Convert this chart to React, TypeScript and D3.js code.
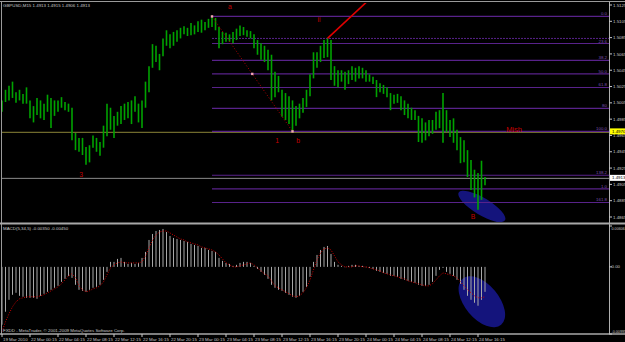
import React from "react";
import * as d3 from "d3";

// ---- price bars (M15 GBPUSD, high / low) ----
const highs = [
  1.5008, 1.5021, 1.5026, 1.5031, 1.5018, 1.5021, 1.5016, 1.5024, 1.5008, 1.5001,
  1.5011, 1.5008, 1.5004, 1.5015, 1.5011, 1.5008, 1.5008, 1.5012, 1.5006, 1.5004,
  1.4999, 1.4968, 1.4962, 1.4962, 1.4951, 1.4953, 1.4965, 1.4962, 1.4957, 1.4977,
  1.5004, 1.4999, 1.4989, 1.4994, 1.5001, 1.5004, 1.5006, 1.5008, 1.5013, 1.5004,
  1.5008, 1.5031, 1.505, 1.5077, 1.5075, 1.5065, 1.5084, 1.5094, 1.5089, 1.5092,
  1.5094, 1.5097, 1.5099, 1.5097, 1.5103, 1.51, 1.5105, 1.5107, 1.5104, 1.5108,
  1.5111, 1.5109, 1.5098, 1.5092, 1.5091, 1.5089, 1.5092, 1.5096, 1.51, 1.5098,
  1.5094, 1.5093, 1.5089, 1.5082, 1.5078, 1.5075, 1.507, 1.5064, 1.5043, 1.5038,
  1.5021, 1.5017, 1.5013, 1.5008, 1.5001, 1.5004, 1.5011, 1.5021, 1.504, 1.5067,
  1.5067, 1.5075, 1.5082, 1.5084, 1.5082, 1.505, 1.5045, 1.5045, 1.5043, 1.5045,
  1.505, 1.5048, 1.505, 1.5048, 1.5045, 1.504, 1.5037, 1.5033, 1.5029, 1.5027,
  1.5024, 1.5017, 1.5015, 1.5016, 1.5013, 1.5008, 1.5004, 1.4999, 1.4996, 1.4989,
  1.4986, 1.4981, 1.4984, 1.4984, 1.4994, 1.4996, 1.5017, 1.4996, 1.4984, 1.4986,
  1.4972, 1.4963, 1.4959, 1.4947, 1.4935, 1.4923, 1.4919, 1.4934, 1.4914,
];
const lows = [
  1.4994, 1.5006, 1.5008, 1.5011, 1.5005, 1.5008, 1.5004, 1.5004, 1.4986, 1.4981,
  1.499, 1.4986, 1.4984, 1.4994, 1.4974, 1.4989, 1.4994, 1.4999, 1.4996, 1.4994,
  1.4959, 1.4947, 1.4945, 1.4941, 1.4929, 1.4932, 1.495, 1.4945, 1.494, 1.495,
  1.4964, 1.4972, 1.4962, 1.4977, 1.4979, 1.4984, 1.4986, 1.4979, 1.4994, 1.4981,
  1.4974, 1.4999, 1.5018, 1.5048, 1.5055, 1.5045, 1.5062, 1.5075, 1.5072, 1.5075,
  1.508, 1.5084, 1.5089, 1.5087, 1.5088, 1.5089, 1.5092, 1.5091, 1.5094, 1.5097,
  1.5098, 1.5094, 1.5072, 1.5077, 1.508, 1.508, 1.5078, 1.5082, 1.5087, 1.5088,
  1.5086, 1.5084, 1.5072, 1.5064, 1.5058, 1.5055, 1.5045, 1.5008, 1.5012, 1.5018,
  1.4988, 1.4984, 1.4979, 1.497, 1.4977, 1.4986, 1.4993, 1.5, 1.5013, 1.5035,
  1.5048, 1.5055, 1.506, 1.5061, 1.5033, 1.5026, 1.5024, 1.5031, 1.5021, 1.5028,
  1.5033, 1.5031, 1.5035, 1.5035, 1.5031, 1.5031, 1.5028, 1.5012, 1.5018, 1.5016,
  1.5012, 1.4996, 1.5004, 1.5005, 1.4996, 1.499, 1.4986, 1.4984, 1.4984, 1.4957,
  1.4956, 1.4959, 1.4964, 1.4967, 1.4972, 1.4974, 1.4956, 1.4969, 1.4963, 1.4956,
  1.4947, 1.4931, 1.4932, 1.4914, 1.4898, 1.4889, 1.4874, 1.4886, 1.4904,
];

// ---- MACD(5,34,5) ----
const macdHist = [
  -0.00857, -0.00665, -0.00488, -0.00414, -0.00384, -0.00429, -0.00443, -0.00458, -0.00458, -0.00458,
  -0.00473, -0.00429, -0.00399, -0.0037, -0.0034, -0.0031, -0.00281, -0.00222, -0.00177, -0.00133,
  -0.00163, -0.00266, -0.0034, -0.00355, -0.0037, -0.0034, -0.0031, -0.00296, -0.00266, -0.00192,
  -0.00074, 0.00074, 0.00074, 0.00118, 0.00133, 0.00074, 0.00044, 0.00059, 0.00044, 0.00059,
  0.00133, 0.00222, 0.00399, 0.00488, 0.00532, 0.00547, 0.00562, 0.00517, 0.00458, 0.00429,
  0.00414, 0.00399, 0.00384, 0.0037, 0.0034, 0.00325, 0.0031, 0.00281, 0.00281, 0.00251,
  0.00236, 0.00222, 0.00133, 0.00089, 0.00059, 0.00044, 0.00015, 0.0003, 0.00059, 0.00074,
  0.00074, 0.00059, 0.00015, -0.0003, -0.00074, -0.00118, -0.00177, -0.00266, -0.0031, -0.0034,
  -0.00355, -0.00384, -0.00414, -0.00443, -0.00458, -0.00429, -0.0037, -0.00296, -0.00148, 0.00074,
  0.00177, 0.00251, 0.00296, 0.0031, 0.00192, 0.00074, 0.0003, 0.00015, -0.00005, 0.00015,
  0.0003, 0.0003, 0.00015, 0.00015, -0.00005, -0.00015, -0.0003, -0.00059, -0.00074, -0.00089,
  -0.00103, -0.00133, -0.00133, -0.00148, -0.00177, -0.00192, -0.00207, -0.00222, -0.00236, -0.00266,
  -0.00281, -0.00281, -0.00266, -0.00222, -0.00133, -0.00044, -0.00015, -0.00074, -0.00103, -0.00133,
  -0.00192, -0.00251, -0.0034, -0.00429, -0.00488, -0.00532, -0.00576, -0.00488, -0.0037,
];
const macdSignal = [
  -0.00961, -0.00813, -0.00695, -0.00591, -0.00517, -0.00473, -0.00458, -0.00443, -0.00443, -0.00443,
  -0.00443, -0.00429, -0.00414, -0.00384, -0.00355, -0.00325, -0.00296, -0.00251, -0.00192, -0.00133,
  -0.00103, -0.00163, -0.00281, -0.0034, -0.0037, -0.00355, -0.00325, -0.0031, -0.00281, -0.00222,
  -0.00118, -0.00015, 0.0003, 0.00059, 0.00074, 0.00059, 0.00059, 0.00059, 0.00059, 0.00059,
  0.00074, 0.00163, 0.00281, 0.00399, 0.00473, 0.00517, 0.00532, 0.00532, 0.00503, 0.00473,
  0.00443, 0.00414, 0.00399, 0.0037, 0.00355, 0.0034, 0.00325, 0.00296, 0.00281, 0.00266,
  0.00251, 0.00222, 0.00177, 0.00118, 0.00059, 0.0003, 0.0, 0.0, 0.00015, 0.0003,
  0.00044, 0.00059, 0.0003, -0.00015, -0.00059, -0.00103, -0.00133, -0.00207, -0.00281, -0.0031,
  -0.0034, -0.0037, -0.00399, -0.00429, -0.00443, -0.00429, -0.00384, -0.0031, -0.00192, -0.00044,
  0.00103, 0.00207, 0.00266, 0.00281, 0.00251, 0.00163, 0.00074, 0.0003, 0.0, 0.0,
  0.0, 0.00015, 0.00015, 0.0, 0.0, -0.00015, -0.0003, -0.00044, -0.00059, -0.00089,
  -0.00103, -0.00118, -0.00133, -0.00148, -0.00163, -0.00177, -0.00207, -0.00222, -0.00236, -0.00251,
  -0.00266, -0.00281, -0.00281, -0.00251, -0.00192, -0.00133, -0.00089, -0.00103, -0.00118, -0.00133,
  -0.00163, -0.00222, -0.00281, -0.0034, -0.00384, -0.00429, -0.00458, -0.00458, -0.00443,
];

// ---- axes ----
const priceTicks = [
  1.5125, 1.5105, 1.5085, 1.5065, 1.5045, 1.5025, 1.5005, 1.4985, 1.4965, 1.4945, 1.4925,
  1.4905, 1.4885, 1.4865,
];
const timeLabels = [
  "19 Mar 2010", "22 Mar 00:15", "22 Mar 04:15", "22 Mar 08:15", "22 Mar 12:15", "22 Mar 16:15",
  "22 Mar 20:15", "23 Mar 00:15", "23 Mar 04:15", "23 Mar 08:15", "23 Mar 12:15", "23 Mar 16:15",
  "23 Mar 20:15", "24 Mar 00:15", "24 Mar 04:15", "24 Mar 08:15", "24 Mar 12:15", "24 Mar 16:15",
];
const timeLabelStep = 8;
const macdTicks = [0.00606, 0, -0.00995];
const macdTickLabels = ["0.00606", "0.00", "-0.00995"];

// ---- Fibonacci ----
const fibLevels = [0, 23.6, 38.2, 50, 61.8, 80, 100, 138.2, 150, 161.8];
const fibLabels = ["0.0", "23.6", "38.2", "50.0", "61.8", "80", "100.0", "138.2", "1.0", "161.8"];
const extraDottedPrice = [1.5084];

// ---- horizontal lines ----
const mishPrice = 1.497;
const bidPrice = 1.4913;

// ---- annotations (bar index, price) ----
const annoText = ["a", "ii", "3", "1", "b", "B", "Mish"];
const annoIdx = [65.1, 90.6, 22.6, 78.6, 84.6, 134.6, 146.3];
const annoPrice = [1.512, 1.5104, 1.4914, 1.4956, 1.4956, 1.4862, 1.4969];
const trendEndIdx = [105];
const trendEndPrice = [1.5132];
const ellipseIdx = [137.1];
const ellipsePrice = [1.4878];
const ellipseMacd = [-0.00517];

const headerText = "GBPUSD,M15  1.4913 1.4915 1.4906 1.4913";
const macdText = "MACD(5,34,5) -0.00350 -0.00450";
const footerText = "FXDD - MetaTrader, \u00a9 2001-2009 MetaQuotes Software Corp.";

export default function App() {
  const W = 625;
  const H = 342;
  const axisX = 609;
  const mainTop = 2;
  const mainBot = 223;
  const macdTop = 225;
  const macdBot = 334;
  const font = "'Liberation Sans', Arial, sans-serif";
  const fs = 4.4;
  const axisCol = "#c8c8c8";
  const fibCol = "#58228a";
  const fibTextCol = "#7d4fb0";

  const n = highs.length;
  const x = d3.scaleLinear().domain([0, n - 1]).range([2, 485]);
  const y = d3.scaleLinear().domain([1.4865, 1.5125]).range([217, 5]);
  const ym = d3.scaleLinear().domain([-0.00995, 0.00606]).range([334, 226]);

  const aIdx = d3.maxIndex(highs);
  const bIdx = aIdx + d3.minIndex(lows.slice(aIdx, aIdx + 40));
  const aP = highs[aIdx];
  const bP = lows[bIdx];
  const fibX0 = x(aIdx);
  const pIdx = 85 + d3.maxIndex(highs.slice(85, 100));

  const sigLine = d3
    .line<number>()
    .x((_, i) => x(i))
    .y((d) => ym(d))(macdSignal) as string;

  const midX = (x(aIdx) + x(bIdx)) / 2;
  const midY = (y(aP) + y(bP)) / 2;

  return (
    <svg
      width={W}
      height={H}
      style={{ position: "absolute", left: 0, top: 0, background: "#000" }}
      fontFamily={font}
    >
      <defs>
        <clipPath id="mainClip">
          <rect x={2} y={mainTop + 1} width={axisX - 2} height={mainBot - mainTop - 2} />
        </clipPath>
        <clipPath id="macdClip">
          <rect x={2} y={macdTop + 1} width={axisX - 2} height={macdBot - macdTop - 2} />
        </clipPath>
      </defs>
      <rect x={0} y={0} width={W} height={H} fill="#000" />

      {/* ===== main panel ===== */}
      <g clipPath="url(#mainClip)">
        {ellipseIdx.map((ei, k) => (
          <ellipse
            key={"e" + k}
            cx={x(ei)}
            cy={y(ellipsePrice[k])}
            rx={27}
            ry={8.5}
            transform={`rotate(31 ${x(ei)} ${y(ellipsePrice[k])})`}
            fill="#14147c"
          />
        ))}
        <line x1={0} x2={axisX} y1={y(mishPrice) + 1} y2={y(mishPrice) + 1} stroke="#6f6a2c" strokeWidth={1.2} />
        <line x1={0} x2={axisX} y1={y(bidPrice) + 0.5} y2={y(bidPrice) + 0.5} stroke="#8a8a8a" strokeWidth={1} />
        {fibLevels.map((lv, k) => {
          const p = aP - ((aP - bP) * lv) / 100;
          return (
            <line
              key={"f" + k}
              x1={fibX0}
              x2={axisX}
              y1={y(p)}
              y2={y(p)}
              stroke={fibCol}
              strokeWidth={1.1}
            />
          );
        })}
        {extraDottedPrice.map((p, k) => (
          <line
            key={"d" + k}
            x1={fibX0}
            x2={axisX}
            y1={y(p)}
            y2={y(p)}
            stroke={fibCol}
            strokeWidth={1}
            strokeDasharray="2,1"
          />
        ))}
        {highs.map((h, i) => (
          <line
            key={"b" + i}
            x1={x(i)}
            x2={x(i)}
            y1={y(h)}
            y2={y(lows[i])}
            stroke="#00a300"
            strokeWidth={1.6}
          />
        ))}
        <line
          x1={x(aIdx)}
          y1={y(aP)}
          x2={x(bIdx)}
          y2={y(bP)}
          stroke="#b00000"
          strokeWidth={1}
          strokeDasharray="1,2"
        />
        {[
          [x(aIdx), y(aP)],
          [midX, midY],
          [x(bIdx), y(bP)],
        ].map((pt, k) => (
          <rect key={"p" + k} x={pt[0] - 1.2} y={pt[1] - 1.2} width={2.4} height={2.4} fill="#f2a4b4" />
        ))}
        <line
          x1={x(pIdx)}
          y1={y(highs[pIdx])}
          x2={x(trendEndIdx[0])}
          y2={y(trendEndPrice[0])}
          stroke="#e00000"
          strokeWidth={1.6}
        />
        {fibLevels.map((lv, k) => {
          const p = aP - ((aP - bP) * lv) / 100;
          return (
            <text
              key={"fl" + k}
              x={axisX - 2}
              y={y(p) - 1}
              fontSize={fs}
              fill={fibTextCol}
              textAnchor="end"
            >
              {fibLabels[k]}
            </text>
          );
        })}
        {annoText.map((t, k) => (
          <text
            key={"a" + k}
            x={x(annoIdx[k])}
            y={y(annoPrice[k])}
            fontSize={t === "Mish" ? 7.5 : 6.8}
            fill="#c40000"
            textAnchor="middle"
          >
            {t}
          </text>
        ))}
        <text x={3} y={7} fontSize={fs} fill={axisCol}>
          {headerText}
        </text>
      </g>

      {/* ===== MACD panel ===== */}
      <g clipPath="url(#macdClip)">
        {ellipseIdx.map((ei, k) => (
          <ellipse
            key={"me" + k}
            cx={x(ei)}
            cy={ym(ellipseMacd[k])}
            rx={30}
            ry={17}
            transform={`rotate(50 ${x(ei)} ${ym(ellipseMacd[k])})`}
            fill="#14147c"
          />
        ))}
        {macdHist.map((v, i) => (
          <line
            key={"h" + i}
            x1={x(i)}
            x2={x(i)}
            y1={ym(0)}
            y2={ym(v)}
            stroke="#a8a8a8"
            strokeWidth={1}
          />
        ))}
        <path d={sigLine} fill="none" stroke="#d00000" strokeWidth={1} strokeDasharray="1,1.5" />
        <text x={3} y={230} fontSize={fs} fill={axisCol}>
          {macdText}
        </text>
        <text x={3} y={332} fontSize={fs} fill={axisCol}>
          {footerText}
        </text>
      </g>

      {/* ===== frames ===== */}
      <line x1={0} x2={W} y1={1.5} y2={1.5} stroke="#9a9a9a" strokeWidth={1} />
      <line x1={1.5} x2={1.5} y1={1.5} y2={macdBot} stroke="#9a9a9a" strokeWidth={1} />
      <line x1={0} x2={W} y1={mainBot + 0.5} y2={mainBot + 0.5} stroke="#a8a8a8" strokeWidth={2} />
      <line x1={0} x2={W} y1={macdBot} y2={macdBot} stroke="#a8a8a8" strokeWidth={1.5} />
      <line x1={axisX + 0.5} x2={axisX + 0.5} y1={1.5} y2={macdBot} stroke="#b0b0b0" strokeWidth={1} />

      {/* price axis */}
      {priceTicks.map((p, k) => (
        <g key={"pt" + k}>
          <line x1={axisX} x2={axisX + 3} y1={y(p)} y2={y(p)} stroke={axisCol} strokeWidth={1} />
          <text x={axisX + 4} y={y(p) + 1.6} fontSize={fs} fill={axisCol}>
            {p.toFixed(4)}
          </text>
        </g>
      ))}
      <rect x={axisX + 1} y={y(mishPrice) - 3} width={15} height={6} fill="#ffff00" />
      <text x={axisX + 3} y={y(mishPrice) + 1.6} fontSize={fs} fill="#000">
        {mishPrice.toFixed(4)}
      </text>
      <rect x={axisX + 1} y={y(bidPrice) - 3} width={15} height={6} fill="#ffffff" />
      <text x={axisX + 3} y={y(bidPrice) + 1.6} fontSize={fs} fill="#000">
        {bidPrice.toFixed(4)}
      </text>

      {/* MACD axis */}
      {macdTicks.map((v, k) => (
        <g key={"mt" + k}>
          <line x1={axisX} x2={axisX + 3} y1={ym(v)} y2={ym(v)} stroke={axisCol} strokeWidth={1} />
          <text
            x={axisX + 2.5}
            y={k === 0 ? ym(v) + 3.5 : k === 2 ? ym(v) - 1 : ym(v) + 1.6}
            fontSize={k === 1 ? fs : 3.7}
            fill={axisCol}
          >
            {macdTickLabels[k]}
          </text>
        </g>
      ))}

      {/* time axis */}
      {timeLabels.map((t, k) => (
        <g key={"tl" + k}>
          <line
            x1={x(k * timeLabelStep)}
            x2={x(k * timeLabelStep)}
            y1={macdBot}
            y2={macdBot + 3}
            stroke={axisCol}
            strokeWidth={1}
          />
          <text x={x(k * timeLabelStep) + 1} y={340.5} fontSize={fs} fill={axisCol}>
            {t}
          </text>
        </g>
      ))}
    </svg>
  );
}
